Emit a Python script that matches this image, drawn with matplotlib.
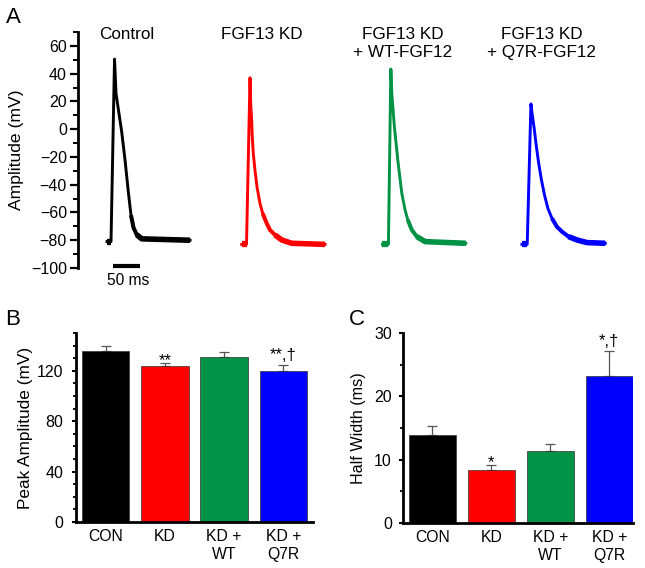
import matplotlib
matplotlib.use("Agg")
import matplotlib.pyplot as plt
from matplotlib.ticker import MultipleLocator

plt.rcParams['font.family'] = ['Liberation Sans', 'DejaVu Sans']

# --- panel A: action potential traces (key points, ms from trace start / mV) ---
trace_names = ['Control', 'FGF13 KD', 'FGF13 KD\n+ WT-FGF12', 'FGF13 KD\n+ Q7R-FGF12']
trace_colors = ['black', '#ff0000', '#009245', '#0000ff']
trace_offsets = [53.7, 303.0, 563.5, 821.7]

ctrl_t = [0, 7.4, 13.9, 16.7, 27.2, 33.3, 39.4, 44.4, 49.1, 55.0, 64.3, 153.7]
ctrl_v = [-81, -81, 50.5, 25.6, -2, -22, -45, -62, -71, -76, -79, -80]
kd_t = [0, 8.9, 15.4, 16.7, 18.5, 19.6, 21.5, 24.6, 28.3, 33.9, 38.9, 46.3, 52.4,
        61.7, 74.1, 92.6, 154.3]
kd_v = [-83, -83, 37, 18.2, 6.2, -5.7, -17.6, -29.6, -41.5, -53.5, -60.7, -67.8, -72.6,
        -76.2, -79.8, -82.2, -83]
wt_t = [0, 11.1, 15.6, 17.4, 19.8, 22.2, 25.4, 28.5, 32.2, 35.9, 42.0, 47.0, 54.4,
        63.7, 79.1, 154.4]
wt_v = [-83, -83, 43.3, 25.4, 13.4, 1.4, -10.5, -22.4, -34.4, -46.3, -58.3, -65.4, -72.6,
        -77.4, -81, -82.2]
q7r_t = [0, 9.8, 16.7, 18.5, 22.8, 26.5, 30.7, 35.7, 41.9, 48.1, 55.6, 64.8, 74.1, 86.3,
         101.9, 120.4, 154.3]
q7r_v = [-83, -83, 18.2, 12.2, 0.3, -11.7, -23.7, -35.6, -47.6, -57.1, -64.2, -70.3,
         -73.8, -77.4, -79.8, -81.7, -82.2]
traces_t = [ctrl_t, kd_t, wt_t, q7r_t]
traces_v = [ctrl_v, kd_v, wt_v, q7r_v]

# --- panels B and C: summary bars ---
groups = ['CON', 'KD', 'KD +\nWT', 'KD +\nQ7R']
bar_colors = ['black', '#ff0000', '#009245', '#0000ff']
peak_mean = [135.4, 123.8, 130.9, 119.5]
peak_sem = [3.9, 2.6, 4.0, 5.1]
peak_marks = ['', '**', '', '**,\u2020']
hw_mean = [13.9, 8.3, 11.4, 23.2]
hw_sem = [1.4, 0.8, 1.1, 4.0]
hw_marks = ['', '*', '', '*,\u2020']

W, H = 645, 568
fig = plt.figure(figsize=(W / 100, H / 100), dpi=100)


def px_axes(left, top, right, bottom):
    return fig.add_axes([left / W, 1 - bottom / H, (right - left) / W, (bottom - top) / H])


# ---------------- panel A ----------------
axA = px_axes(78, 32, 615, 268)
for t, v, off, col, name in zip(traces_t, traces_v, trace_offsets, trace_colors, trace_names):
    x = [off + ti for ti in t]
    axA.plot(x, v, color=col, lw=2.1)
    # noisy pre-stimulus and baseline parts look thicker
    axA.plot(x[:2], v[:2], color=col, lw=4.5, solid_capstyle='butt')
    ipk = v.index(max(v))
    for lim, lw in [(-60, 2.9), (-75, 4.0)]:
        tail = [i for i in range(ipk, len(v)) if v[i] <= lim]
        axA.plot([x[i] for i in tail], [v[i] for i in tail], color=col, lw=lw,
                 solid_capstyle='butt')
    axA.text(off + 37, 73.5, name, ha='center', va='top', fontsize=12.3,
             linespacing=1.25, clip_on=False)

axA.set_xlim(0, 994)
axA.set_ylim(-100, 70)
axA.yaxis.set_major_locator(MultipleLocator(20))
axA.yaxis.set_minor_locator(MultipleLocator(10))
axA.set_yticks(range(-100, 61, 20))
for s in ['top', 'right', 'bottom']:
    axA.spines[s].set_visible(False)
axA.spines['left'].set_linewidth(2)
axA.set_xticks([])
axA.tick_params(axis='y', which='major', direction='out', length=6, width=1.6,
                labelsize=11.5, pad=2)
axA.tick_params(axis='y', which='minor', direction='out', length=3.5, width=1.4)
axA.set_ylabel('Amplitude (mV)', fontsize=12.6)
axA.yaxis.set_label_coords(-0.1, 0.5)

# scale bar
axA.plot([64.8, 114.8], [-98.6, -98.6], color='black', lw=3, solid_capstyle='butt',
         clip_on=False)
axA.text(92.6, -112.5, '50 ms', ha='center', va='baseline', fontsize=11.2, clip_on=False)


# ---------------- panels B and C ----------------
def bar_panel(ax, means, sems, marks, ymax, major, minor, ylabel, xright, ylab_x,
              tick_pad):
    xs = range(len(groups))
    ax.bar(xs, means, width=0.8, color=bar_colors, edgecolor='#333333', linewidth=0.5,
           zorder=2)
    ax.errorbar(xs, means, yerr=[[0] * len(sems), sems], fmt='none', ecolor='#555555',
                elinewidth=0.9, capsize=3.5, capthick=0.9, zorder=1)
    for xi, m, s, mk in zip(xs, means, sems, marks):
        if mk:
            dy = 3.5 if '\u2020' in mk else -1.5
            ax.annotate(mk, (xi, m + s), xytext=(0, dy), textcoords='offset points',
                        ha='center', va='baseline', fontsize=12)
    ax.set_xlim(-0.5, xright)
    ax.set_ylim(0, ymax)
    ax.yaxis.set_major_locator(MultipleLocator(major))
    ax.yaxis.set_minor_locator(MultipleLocator(minor))
    ax.set_xticks(list(xs))
    ax.set_xticklabels(groups, fontsize=11.3, linespacing=1.25)
    ax.tick_params(axis='x', length=0, pad=5)
    ax.tick_params(axis='y', which='major', direction='out', length=3, width=1.5,
                   labelsize=11.5, pad=tick_pad)
    ax.tick_params(axis='y', which='minor', direction='out', length=2, width=1.3)
    for s in ['top', 'right']:
        ax.spines[s].set_visible(False)
    for s in ['left', 'bottom']:
        ax.spines[s].set_linewidth(2)
    ax.set_ylabel(ylabel, fontsize=12.4)
    ax.yaxis.set_label_coords(ylab_x, 0.5)


axB = px_axes(76, 333, 313, 522)
bar_panel(axB, peak_mean, peak_sem, peak_marks, 150, 40, 10, 'Peak Amplitude (mV)',
          3.5, -0.18, 6)
axB.set_yticks([0, 40, 80, 120])

axC = px_axes(403, 333, 633, 523)
bar_panel(axC, hw_mean, hw_sem, hw_marks, 30, 10, 5, 'Half Width (ms)',
          3.4, -0.16, 5)
axC.yaxis.label.set_size(11.6)

# panel letters
fig.text(6 / W, 1 - 23 / H, 'A', fontsize=16, va='baseline')
fig.text(5 / W, 1 - 325 / H, 'B', fontsize=16, va='baseline')
fig.text(349 / W, 1 - 325 / H, 'C', fontsize=16, va='baseline')

fig.savefig('out.png', dpi=100)
